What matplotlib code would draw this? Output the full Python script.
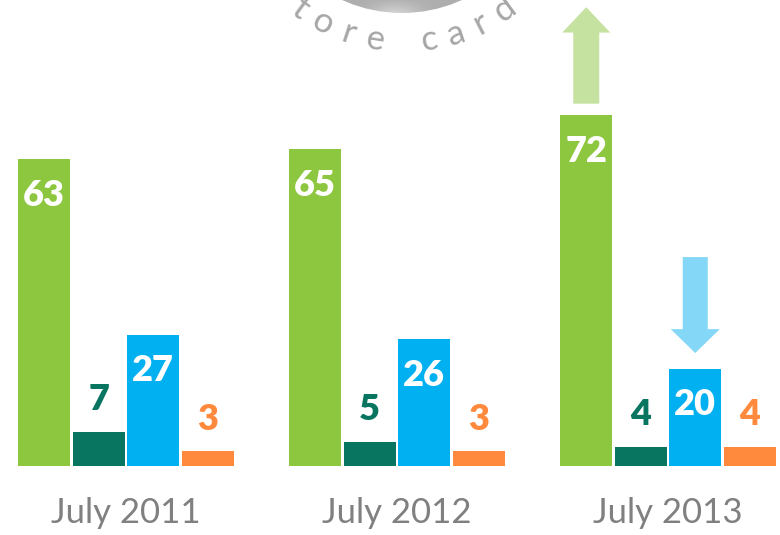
import numpy as np
import matplotlib
matplotlib.use("Agg")
import matplotlib.pyplot as plt
from matplotlib.patches import Circle, FancyArrow

# Share of respondents by card type, three survey waves
periods = ["July 2011", "July 2012", "July 2013"]
green_vals = [63, 65, 72]
teal_vals = [7, 5, 4]
blue_vals = [27, 26, 20]
orange_vals = [3, 3, 4]

series = [green_vals, teal_vals, blue_vals, orange_vals]
colors = ["#8dc63f", "#077560", "#00b0f0", "#ff8a3d"]

badge_text = "store card"

W, H = 780, 535
px_per_unit = 4.87
baseline_px = 466

fig = plt.figure(figsize=(W / 100, H / 100), dpi=100)
fig.patch.set_facecolor("white")

# decoration layer in pixel coordinates (badge at the top)
deco = fig.add_axes([0, 0, 1, 1], zorder=0)
deco.set_xlim(0, W)
deco.set_ylim(H, 0)
deco.axis("off")

cx, cy, r = 402, -132, 145
yy, xx = np.mgrid[-1:1:300j, -1:1:300j]
# silver ball: flat grey body, soft light streak near the bottom rim
shade = 0.68 + 0.14 * np.exp(-((xx + 0.05) ** 2) / 0.03) * np.clip((yy - 0.9) * 10, 0, 1)
shade = np.clip(shade, 0, 1)
img = deco.imshow(shade, cmap="gray", vmin=0, vmax=1,
                  extent=(cx - r, cx + r, cy + r, cy - r), zorder=1)
clip = Circle((cx, cy), r, transform=deco.transData)
img.set_clip_path(clip)

text_r = 174
start_ang, step = -135, 9
for i, ch in enumerate(badge_text):
    ang = np.radians(start_ang + i * step)
    x = cx + text_r * np.cos(ang)
    y = cy - text_r * np.sin(ang)
    deco.text(x, y, ch, fontsize=25, family="Lato", weight="normal",
              color="#a6a6a6", ha="center", va="center",
              rotation=np.degrees(ang) + 90, rotation_mode="anchor")

# bar chart layer
ax = fig.add_axes([0, (H - baseline_px) / H, 1, baseline_px / H], zorder=2)
ax.patch.set_alpha(0)
group_px, step_px, width_px, first_center = 271, 54.5, 52, 126
ax.set_xlim(-first_center / group_px, (W - first_center) / group_px)
ax.set_ylim(0, baseline_px / px_per_unit)
for s in ax.spines.values():
    s.set_visible(False)
ax.set_yticks([])

x = np.arange(len(periods))
bar_step = step_px / group_px
bar_w = width_px / group_px
offsets = (np.arange(len(series)) - 1.5) * bar_step

for vals, off, col in zip(series, offsets, colors):
    ax.bar(x + off, vals, width=bar_w, color=col, edgecolor="none")
    for xi, v in zip(x + off, vals):
        if v >= 20:
            ax.text(xi, v - 7.4, str(v), ha="center", va="center", fontsize=26,
                    family="Lato", weight="heavy", color="white")
        else:
            ax.text(xi, v + 6.6, str(v), ha="center", va="center", fontsize=26,
                    family="Lato", weight="heavy", color=col)

# trend arrows on the latest wave
up_x = x[-1] + offsets[0]
ax.add_patch(FancyArrow(up_x, green_vals[-1] + 2.4, 0, 19.8, width=26 / group_px,
                        head_width=48 / group_px, head_length=5.2,
                        length_includes_head=True, color="#c6e2a0", lw=0))
down_x = x[-1] + offsets[2]
ax.add_patch(FancyArrow(down_x, blue_vals[-1] + 22.9, 0, -19.7, width=25 / group_px,
                        head_width=49 / group_px, head_length=4.9,
                        length_includes_head=True, color="#84d7f7", lw=0))

ax.set_xticks(x)
ax.set_xticklabels(periods, fontsize=25, family="Lato", weight="normal",
                   color="#808080")
ax.tick_params(axis="x", length=0, pad=22)

fig.savefig("out.png", dpi=100)
